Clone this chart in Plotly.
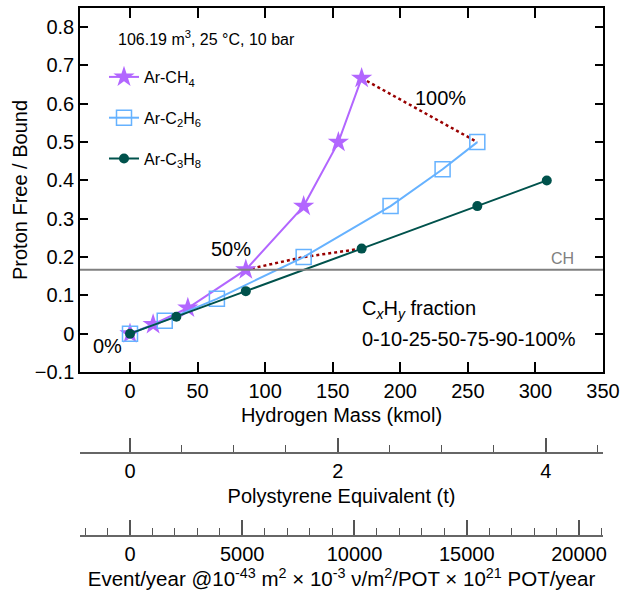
import plotly.graph_objects as go

# ---- data ----
ch4_x = [0, 17.1, 42.8, 85.7, 128.5, 154.2, 171.4]
ch4_y = [0, 0.024, 0.067, 0.167, 0.333, 0.5, 0.667]
c2h6_x = [0, 25.7, 64.3, 128.5, 192.8, 231.3, 257.0]
c2h6_y = [0, 0.034, 0.091, 0.2, 0.333, 0.429, 0.5]
c3h8_x = [0, 34.3, 85.7, 171.4, 257.0, 308.4]
c3h8_y = [0, 0.044, 0.111, 0.222, 0.333, 0.4]
fractions = [0, 10, 25, 50, 75, 90, 100]
ch_ratio = 1 / 6
kmol_per_tonne_ps = 76.92      # polystyrene equivalent conversion
events_per_kmol = 60.2         # event-rate conversion
x_range = [-37, 350]
y_range = [-0.1, 0.85]

FONT = "Liberation Sans, Arial, Helvetica, sans-serif"
PURPLE = "#B266FF"
BLUE = "#66B2FF"
TEAL = "#00524C"
DRED = "#990000"

i50 = fractions.index(50)
i100 = fractions.index(100)

fig = go.Figure()

# iso-fraction dotted lines
fig.add_trace(go.Scatter(x=[ch4_x[i50], c2h6_x[i50], c3h8_x[i50]],
                         y=[ch4_y[i50], c2h6_y[i50], c3h8_y[i50]],
                         mode="lines", line=dict(color=DRED, width=2.5, dash="dot"),
                         showlegend=False, hoverinfo="skip"))
fig.add_trace(go.Scatter(x=[ch4_x[i100], c2h6_x[i100]],
                         y=[ch4_y[i100], c2h6_y[i100]],
                         mode="lines", line=dict(color=DRED, width=2.5, dash="dot"),
                         showlegend=False, hoverinfo="skip"))

fig.add_trace(go.Scatter(x=ch4_x, y=ch4_y, mode="lines+markers", name="Ar-CH<sub>4</sub>",
                         line=dict(color=PURPLE, width=2),
                         marker=dict(symbol="star", size=16, color=PURPLE),
                         legendgroup="a"))
fig.add_trace(go.Scatter(x=c2h6_x, y=c2h6_y, mode="lines+markers", name="Ar-C<sub>2</sub>H<sub>6</sub>",
                         line=dict(color=BLUE, width=2),
                         marker=dict(symbol="square-open", size=15, color=BLUE, line=dict(width=1.5)),
                         legendgroup="b"))
fig.add_trace(go.Scatter(x=c3h8_x, y=c3h8_y, mode="lines+markers", name="Ar-C<sub>3</sub>H<sub>8</sub>",
                         line=dict(color=TEAL, width=2),
                         marker=dict(symbol="circle", size=10, color=TEAL),
                         legendgroup="c"))

# dummy traces to instantiate the secondary x axes
fig.add_trace(go.Scatter(x=[], y=[], xaxis="x2", yaxis="y", showlegend=False, hoverinfo="skip"))
fig.add_trace(go.Scatter(x=[], y=[], xaxis="x3", yaxis="y", showlegend=False, hoverinfo="skip"))

# CH reference line
fig.add_shape(type="line", xref="paper", x0=0, x1=1, yref="y", y0=ch_ratio, y1=ch_ratio,
              line=dict(color="#808080", width=2))

OX, OY = 0, 0
W, H = 622, 593
ML, MR = 80, 19
mt, mb = 8, 0
ph = H - mt - mb
pw = W - ML - MR


def pfrac(sy):
    return (H - mb - (sy - OY)) / ph


def xfrac(sx):
    return (sx - OX - ML) / pw


axis_font = dict(family=FONT, size=20, color="black")

fig.update_layout(
    width=W, height=H,
    margin=dict(l=ML, r=MR, t=mt, b=mb, autoexpand=False),
    paper_bgcolor="white", plot_bgcolor="white",
    font=dict(family=FONT, size=20, color="black"),
    showlegend=True,
    legend=dict(x=xfrac(104), y=pfrac(60), xanchor="left", yanchor="top",
                font=dict(family=FONT, size=16), bgcolor="rgba(0,0,0,0)",
                tracegroupgap=17, itemwidth=30),
    xaxis=dict(range=x_range, domain=[0, 1], dtick=50, tick0=0, automargin=False,
               ticks="inside", ticklen=10, tickwidth=1.5, tickcolor="black",
               showline=True, linecolor="black", linewidth=1.5, mirror="ticks",
               showgrid=False, zeroline=False, tickfont=axis_font,
               title=dict(text="Hydrogen Mass (kmol)", font=axis_font, standoff=7)),
    yaxis=dict(range=y_range, domain=[pfrac(372), 1], dtick=0.1, tick0=0, automargin=False,
               ticks="inside", ticklen=8, tickwidth=1.5, tickcolor="black",
               showline=True, linecolor="black", linewidth=1.5, mirror="ticks",
               showgrid=False, zeroline=False, tickfont=axis_font,
               title=dict(text="Proton Free / Bound", font=axis_font, standoff=2)),
    xaxis2=dict(range=[v / kmol_per_tonne_ps for v in x_range], overlaying="x", automargin=False,
                anchor="free", position=pfrac(453.3), side="bottom",
                dtick=2, tick0=0, ticks="inside", ticklen=14, tickwidth=1.5, tickcolor="#555555",
                minor=dict(dtick=0.5, ticks="inside", ticklen=7, tickwidth=1.2, tickcolor="#555555"),
                showline=True, linecolor="#666666", linewidth=2,
                showgrid=False, zeroline=False, tickfont=axis_font,
                title=dict(text="Polystyrene Equivalent (t)", font=axis_font, standoff=7)),
    xaxis3=dict(range=[v * events_per_kmol for v in x_range], overlaying="x", automargin=False,
                anchor="free", position=pfrac(535.7), side="bottom",
                dtick=5000, tick0=0, ticks="inside", ticklen=15, tickwidth=1.5, tickcolor="#555555",
                minor=dict(dtick=1000, ticks="inside", ticklen=7, tickwidth=1.2, tickcolor="#555555"),
                showline=True, linecolor="#666666", linewidth=2,
                showgrid=False, zeroline=False, tickfont=axis_font, tickformat="d",
                title=dict(text="Event/year @10<sup>-43</sup> m<sup>2</sup> × 10<sup>-3</sup> ν/m<sup>2</sup>/POT × 10<sup>21</sup> POT/year",
                           font=dict(family=FONT, size=20.5, color="black"), standoff=6)),
)

ann = [
    dict(text="106.19 m<sup>3</sup>, 25 °C, 10 bar", x=116, y=38, size=16, xanchor="left"),
    dict(text="100%", x=440, y=98, size=20, xanchor="center"),
    dict(text="50%", x=231, y=249, size=20, xanchor="center"),
    dict(text="0%", x=107, y=346, size=20, xanchor="center"),
    dict(text="C<sub><i>x</i></sub>H<sub><i>y</i></sub> fraction", x=360, y=310, size=20, xanchor="left"),
    dict(text="0-10-25-50-75-90-100%", x=360, y=339, size=20, xanchor="left"),
]
for a in ann:
    fig.add_annotation(text=a["text"], xref="paper", yref="paper",
                       x=xfrac(a["x"]), y=pfrac(a["y"]),
                       xanchor=a["xanchor"], yanchor="middle", showarrow=False,
                       font=dict(family=FONT, size=a["size"], color="black"))
fig.add_annotation(text="CH", xref="paper", yref="y", x=xfrac(562), y=ch_ratio,
                   xanchor="center", yanchor="bottom", yshift=1, showarrow=False,
                   font=dict(family=FONT, size=16, color="#808080"))

fig.write_html("out.html",
               config={"displayModeBar": False},
               post_script="document.body.style.margin='0';document.body.style.overflow='hidden';")
